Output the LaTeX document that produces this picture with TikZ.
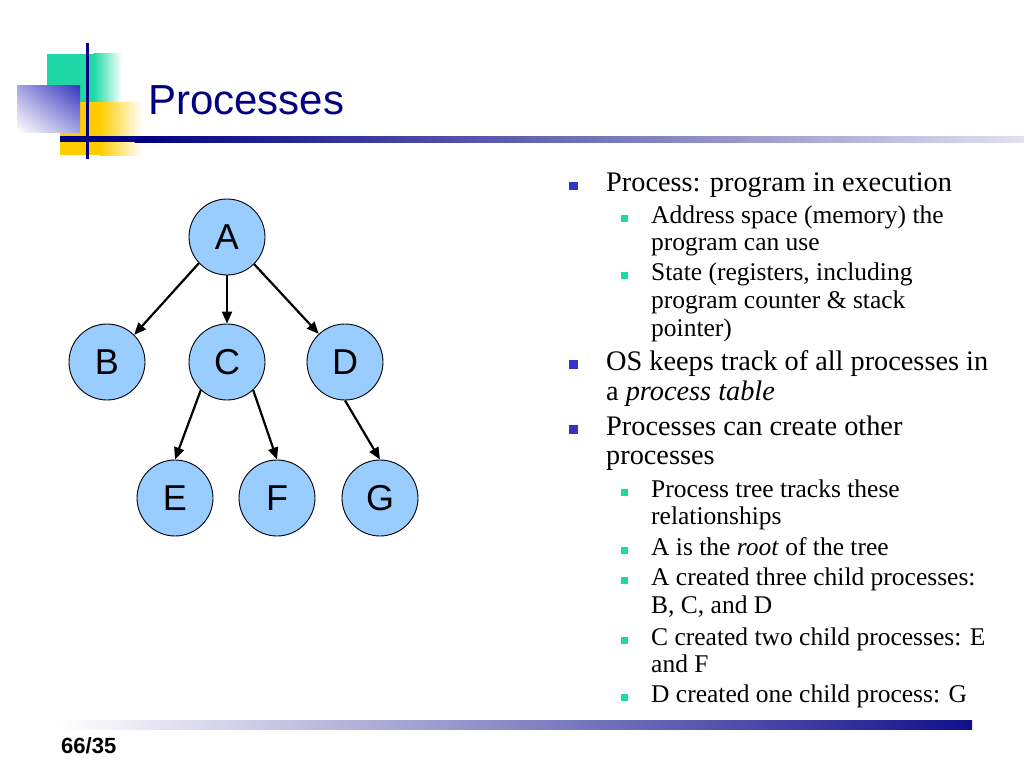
\documentclass[tikz,border=0pt]{standalone}
\usepackage{fontspec}
\setmainfont{Liberation Serif}
\newfontfamily\arialf{Liberation Sans}
\usetikzlibrary{arrows.meta,shadings}
\definecolor{navy}{RGB}{0,0,128}
\definecolor{navyB}{RGB}{16,16,140}
\definecolor{decogreen}{RGB}{30,217,165}
\definecolor{decoyellow}{RGB}{255,204,0}
\definecolor{decoblue}{RGB}{51,51,190}
\definecolor{nodeblue}{RGB}{153,204,255}
\definecolor{bulletblue}{RGB}{51,51,204}
\definecolor{bulletgreen}{RGB}{30,217,165}
\begin{document}
\begin{tikzpicture}[x=1pt,y=-1pt,
  proc/.style={circle,draw=black,line width=0.9pt,fill=nodeblue,minimum size=76pt,inner sep=0pt,font=\arialf\fontsize{36}{40}\selectfont},
  edge/.style={line width=2.2pt,-{Triangle[length=12pt,width=10pt]}},
  lone/.style={anchor=base west,inner sep=0pt,font=\fontsize{28.3}{31}\selectfont},
  ltwo/.style={anchor=base west,inner sep=0pt,font=\fontsize{25.5}{28}\selectfont},
  bone/.style={fill=bulletblue,minimum size=8.5pt,inner sep=0pt,draw=none},
  btwo/.style={fill=bulletgreen,minimum size=7pt,inner sep=0pt,draw=none}]
\useasboundingbox[fill=white] (0,0) rectangle (1024,768);

% header decoration
\fill[decogreen] (47,54) rectangle (94,102);
\shade[left color=decogreen,right color=white] (93.5,54) rectangle (122,102);
\fill[decoyellow] (60,102) rectangle (100,155);
\shade[left color=decoyellow,right color=white] (99.5,102) rectangle (142,155);
\shade[upper right=decoblue,upper left=decoblue!45,lower right=decoblue!45,lower left=white] (17,85) rectangle (80,132);
\fill[navy] (85.5,43) rectangle (88.5,159);
\fill[navy] (60,136) rectangle (135,142);
\shade[left color=navy,right color=navy!12] (134.5,136) rectangle (1024,142);

% title
\node[anchor=base west,inner sep=0pt,text=navy,font=\arialf\fontsize{42}{48}\selectfont] (title) at (148,114) {Processes};

% tree
\node[proc] (A) at (227,237) {A};
\node[proc] (B) at (107,362) {B};
\node[proc] (C) at (227,362) {C};
\node[proc] (D) at (345,362) {D};
\node[proc] (E) at (175,498) {E};
\node[proc] (F) at (277,498) {F};
\node[proc] (G) at (380,498) {G};
\draw[edge] (A.223) -- (B.45);
\draw[edge] (A.south) -- (C.north);
\draw[edge] (A.-45) -- (D.133);
\draw[edge] (C.227) -- (E.north);
\draw[edge] (C.-47) -- (F.north);
\draw[edge] (D.south) -- (G.north);

% bullets text
\node[bone] (b1) at (573.5,186) {};
\node[lone] (t1) at (606,191.5) {Process: program in execution};
\node[btwo] (b11) at (624,218.5) {};
\node[ltwo] (t11a) at (651,223) {Address space (memory) the};
\node[ltwo] (t11b) at (651,250) {program can use};
\node[btwo] (b12) at (624,275.5) {};
\node[ltwo] (t12a) at (651,280) {State (registers, including};
\node[ltwo] (t12b) at (651,308) {program counter \& stack};
\node[ltwo] (t12c) at (651,336.5) {pointer)};
\node[bone] (b2) at (573.5,364.5) {};
\node[lone] (t2a) at (606,370) {OS keeps track of all processes in};
\node[lone] (t2b) at (606,400) {a \textit{process table}};
\node[bone] (b3) at (573.5,429.5) {};
\node[lone] (t3a) at (606,435) {Processes can create other};
\node[lone] (t3b) at (606,464) {processes};
\node[btwo] (b31) at (624,492) {};
\node[ltwo] (t31a) at (651,497) {Process tree tracks these};
\node[ltwo] (t31b) at (651,524) {relationships};
\node[btwo] (b32) at (624,550) {};
\node[ltwo] (t32) at (651,555) {A is the \textit{root} of the tree};
\node[btwo] (b33) at (624,580) {};
\node[ltwo] (t33a) at (651,585) {A created three child processes:};
\node[ltwo] (t33b) at (651,613) {B, C, and D};
\node[btwo] (b34) at (624,640) {};
\node[ltwo] (t34a) at (651,645) {C created two child processes: E};
\node[ltwo] (t34b) at (651,672) {and F};
\node[btwo] (b35) at (624,697) {};
\node[ltwo] (t35) at (651,702) {D created one child process: G};

% footer
\shade[left color=white,right color=navyB] (60,720) rectangle (972,729);
\node[anchor=base west,inner sep=0pt,font=\arialf\bfseries\fontsize{22}{26}\selectfont] (page) at (61,753) {66/35};
\end{tikzpicture}
\end{document}
